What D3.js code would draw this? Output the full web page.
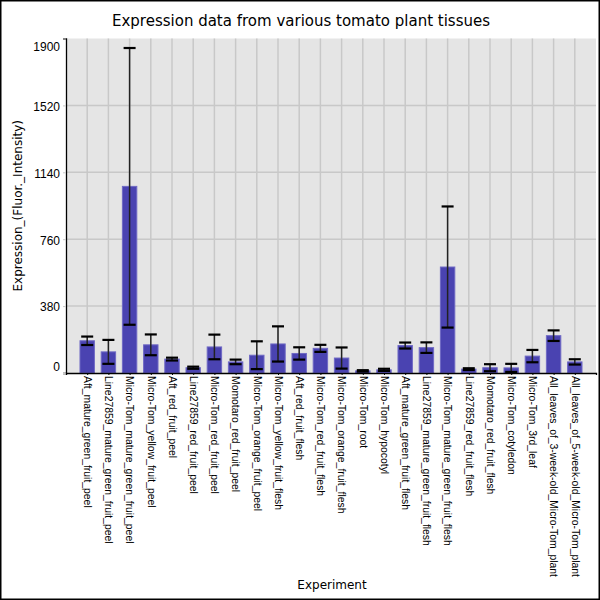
<!DOCTYPE html>
<html>
<head>
<meta charset="utf-8">
<script src="https://cdn.jsdelivr.net/npm/d3@7"></script>
<style>
  body { margin: 0; background: #fff; }
  svg { font-family: 'DejaVu Sans', sans-serif; }
</style>
</head>
<body>
<svg width="600" height="600"></svg>
<script>
'use strict';

const categories = [
  'Aft_mature_green_fruit_peel',
  'Line27859_mature_green_fruit_peel',
  'Micro-Tom_mature_green_fruit_peel',
  'Micro-Tom_yellow_fruit_peel',
  'Aft_red_fruit_peel',
  'Line27859_red_fruit_peel',
  'Micro-Tom_red_fruit_peel',
  'Momotaro_red_fruit_peel',
  'Micro-Tom_orange_fruit_peel',
  'Micro-Tom_yellow_fruit_flesh',
  'Aft_red_fruit_flesh',
  'Micro-Tom_red_fruit_flesh',
  'Micro-Tom_orange_fruit_flesh',
  'Micro-Tom_root',
  'Micro-Tom_hypocotyl',
  'Aft_mature_green_fruit_flesh',
  'Line27859_mature_green_fruit_flesh',
  'Micro-Tom_mature_green_fruit_flesh',
  'Line27859_red_fruit_flesh',
  'Momotaro_red_fruit_flesh',
  'Micro-Tom_cotyledon',
  'Micro-Tom_3rd_leaf',
  'All_leaves_of_3-week-old_Micro-Tom_plant',
  'All_leaves_of_5-week-old_Micro-Tom_plant'
]
const values = [183, 120, 1060, 160, 79, 30, 148, 63, 101, 165, 111, 140,
  85, 12, 18, 156, 144, 602, 22, 30, 29, 96, 212, 63]
const errors = [24, 68, 786, 59, 8, 6, 70, 13, 79, 100, 35, 20,
  60, 4, 6, 17, 30, 344, 5, 20, 23, 35, 30, 15]
const yTicks = [0, 380, 760, 1140, 1520, 1900]

const svg = d3.select('svg')
const margin = {top: 38.5, right: 4, bottom: 227, left: 66}
const width = 600 - margin.left - margin.right
const height = 600 - margin.top - margin.bottom

// outer frame
svg.append('rect')
  .attr('x', 0.75).attr('y', 0.75).attr('width', 598.5).attr('height', 598.5)
  .attr('fill', '#fff').attr('stroke', '#000').attr('stroke-width', 1.5)

const g = svg.append('g').attr('transform', 'translate(' + margin.left + ',' + margin.top + ')')

const x = d3.scalePoint()
  .domain(categories)
  .range([0, width])
  .padding(1)
const y = d3.scaleLinear()
  .domain([0, 1900])
  .range([height, 0])

g.append('rect')
  .attr('width', width).attr('height', height)
  .attr('fill', '#e5e5e5')

// grid
g.append('g')
  .selectAll('line.h')
  .data(yTicks.filter((d) => d > 0 && d < 1900))
  .enter().append('line')
  .attr('x1', 0).attr('x2', width)
  .attr('y1', (d) => y(d)).attr('y2', (d) => y(d))
  .attr('stroke', '#c8c8c8').attr('stroke-width', 1.5)
g.append('g')
  .selectAll('line.v')
  .data(categories)
  .enter().append('line')
  .attr('x1', (d) => x(d)).attr('x2', (d) => x(d))
  .attr('y1', 0).attr('y2', height)
  .attr('stroke', '#c8c8c8').attr('stroke-width', 1.5)

const barW = x.step() * 0.68

g.append('g')
  .selectAll('rect')
  .data(categories)
  .enter().append('rect')
  .attr('x', (d) => x(d) - barW / 2)
  .attr('width', barW)
  .attr('y', (d, i) => y(values[i]))
  .attr('height', (d, i) => height - y(values[i]))
  .attr('fill', '#4a43b1')
  .attr('stroke', '#6f69c4')
  .attr('stroke-width', 1)

// error bars
const eb = g.append('g')
  .selectAll('g')
  .data(categories)
  .enter().append('g')
eb.append('line')
  .attr('x1', (d) => x(d)).attr('x2', (d) => x(d))
  .attr('y1', (d, i) => y(values[i] + errors[i]))
  .attr('y2', (d, i) => y(Math.max(0, values[i] - errors[i])))
  .attr('stroke', '#222').attr('stroke-width', 1.5)
const capW = 6
eb.append('line')
  .attr('x1', (d) => x(d) - capW).attr('x2', (d) => x(d) + capW)
  .attr('y1', (d, i) => y(values[i] + errors[i]))
  .attr('y2', (d, i) => y(values[i] + errors[i]))
  .attr('stroke', '#000').attr('stroke-width', 2.2)
eb.append('line')
  .attr('x1', (d) => x(d) - capW).attr('x2', (d) => x(d) + capW)
  .attr('y1', (d, i) => y(Math.max(0, values[i] - errors[i])))
  .attr('y2', (d, i) => y(Math.max(0, values[i] - errors[i])))
  .attr('stroke', '#000').attr('stroke-width', 2.2)

// y axis
const yAxis = d3.axisLeft(y).tickValues(yTicks).tickFormat(d3.format('d')).tickSize(3).tickPadding(3)
const ya = g.append('g').call(yAxis)
ya.select('.domain').attr('stroke', '#000').attr('stroke-width', 1.3)
ya.selectAll('.tick line').attr('stroke', '#c8c8c8')
ya.selectAll('.tick text')
  .attr('font-size', 12).attr('fill', '#000')
  .attr('dy', (d) => d === 1900 ? '1.0em' : (d === 0 ? '-0.2em' : '0.4em'))

// x axis
const xAxis = d3.axisBottom(x).tickSize(2).tickPadding(2)
const xa = g.append('g').attr('transform', 'translate(0,' + height + ')').call(xAxis)
xa.select('.domain').attr('stroke', '#000').attr('stroke-width', 1.3)
xa.selectAll('.tick line').attr('stroke', '#000')
xa.selectAll('.tick text')
  .attr('font-size', 10.4).attr('fill', '#000')
  .attr('text-anchor', 'start')
  .attr('transform', 'rotate(90)')
  .attr('x', 3).attr('y', 0).attr('dy', '0.35em')

// titles
svg.append('text')
  .attr('x', 301).attr('y', 26)
  .attr('text-anchor', 'middle')
  .attr('font-size', 15)
  .text('Expression data from various tomato plant tissues')
svg.append('text')
  .attr('transform', 'translate(22,' + (margin.top + height / 2) + ') rotate(-90)')
  .attr('text-anchor', 'middle')
  .attr('font-size', 12)
  .text('Expression_(Fluor._Intensity)')
svg.append('text')
  .attr('x', 332).attr('y', 589)
  .attr('text-anchor', 'middle')
  .attr('font-size', 12)
  .text('Experiment')
</script>
</body>
</html>
